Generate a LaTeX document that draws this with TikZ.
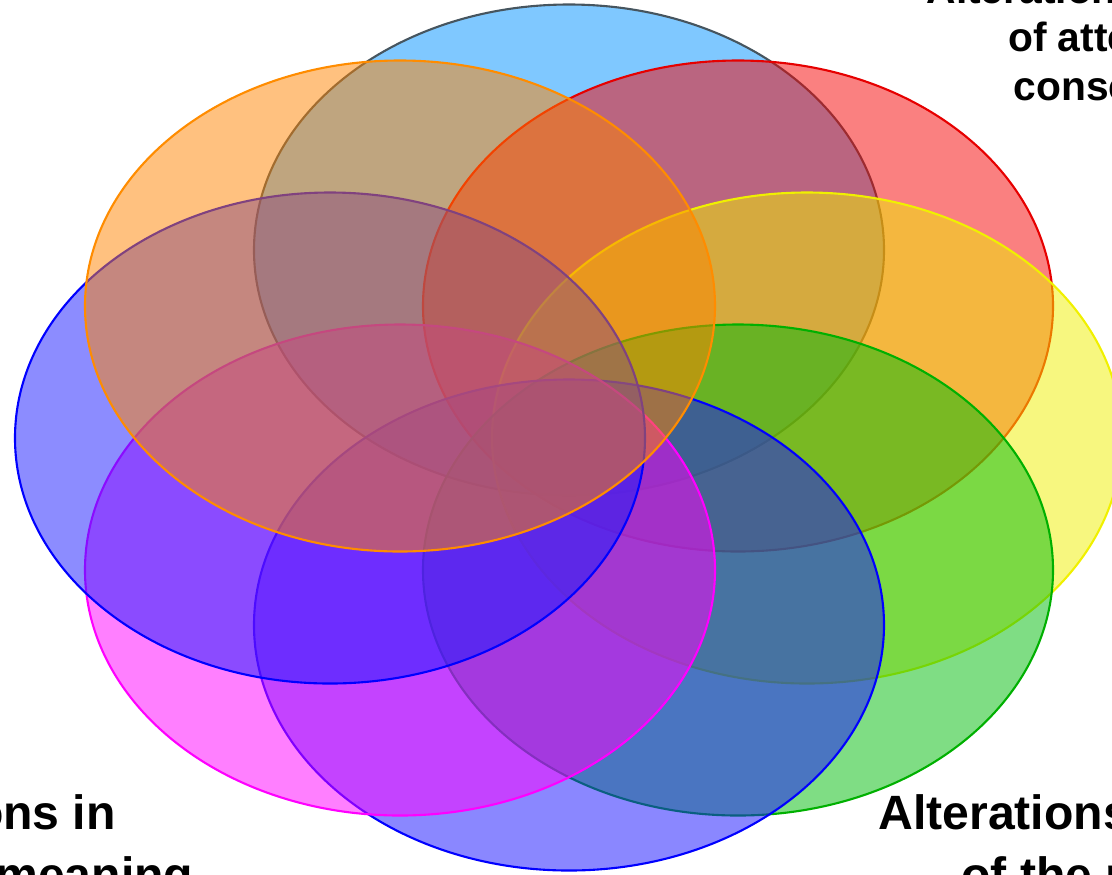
\documentclass[tikz,border=0pt]{standalone}
\usepackage{fontspec}
\setmainfont{Liberation Sans}
\usetikzlibrary{shapes.geometric}

\definecolor{skyfill}{RGB}{0,146,255}
\definecolor{skyline}{RGB}{70,85,95}
\definecolor{redfill}{RGB}{245,2,2}
\definecolor{redline}{RGB}{230,0,0}
\definecolor{yelfill}{RGB}{240,240,0}
\definecolor{yelline}{RGB}{240,240,0}
\definecolor{grnfill}{RGB}{0,187,10}
\definecolor{grnline}{RGB}{0,176,0}
\definecolor{bluefill}{RGB}{21,15,255}
\definecolor{blueline}{RGB}{0,0,255}
\definecolor{magfill}{RGB}{255,0,255}
\definecolor{vioLfill}{RGB}{25,25,255}
\definecolor{orgfill}{RGB}{255,132,0}
\definecolor{orgline}{RGB}{255,140,0}

\begin{document}
\begin{tikzpicture}[blob/.style={ellipse, draw, line width=0.6pt, fill opacity=0.5, inner sep=0pt, minimum width=6.3cm, minimum height=4.91cm},
                    lbl/.style={align=center, anchor=base, text=black}]
                    \useasboundingbox (-5.69,-4.36) rectangle (5.43,4.38);

                    % Eight ellipses, clockwise from the top
                    \node[blob, draw=skyline, fill=skyfill] (c1) at (0,1.88) {};
                    \node[blob, draw=redline, fill=redfill] (c2) at (1.69,1.32) {};
                    \node[blob, draw=yelline, fill=yelfill] (c3) at (2.38,0) {};
                    \node[blob, draw=grnline, fill=grnfill] (c4) at (1.69,-1.32) {};
                    \node[blob, draw=blueline, fill=bluefill] (c5) at (0,-1.87) {};
                    \node[blob, draw=magfill, fill=magfill] (c6) at (-1.69,-1.32) {};
                    \node[blob, draw=blueline, fill=vioLfill] (c7) at (-2.39,0) {};
                    \node[blob, draw=orgline, fill=orgfill] (c8) at (-1.69,1.32) {};

                    % Labels, cut off by the frame (base = last line)
                    \node[lbl, font=\bfseries\fontsize{11.6}{13.7}\selectfont] (attn) at (5.92,3.38) {Alterations in regulation\\of attention and\\consciousness};
                    \node[lbl, font=\bfseries\fontsize{13.7}{17.4}\selectfont] (meaning) at (-6.07,-4.53) {Alterations in\\systems of meaning};
                    \node[lbl, font=\bfseries\fontsize{13.7}{17.4}\selectfont] (perp) at (5.93,-4.53) {Alterations in perception\\of the perpetrator};
                \end{tikzpicture}
\end{document}
